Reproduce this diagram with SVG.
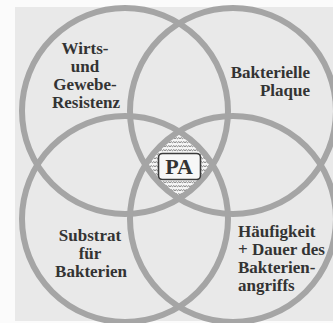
<svg xmlns="http://www.w3.org/2000/svg" width="333" height="323" viewBox="0 0 333 323">
  <style>
    .ring { fill: none; stroke: #a5a5a5; stroke-width: 6; }
    .lbl { font-family: "Liberation Serif", "Times New Roman", serif; font-weight: bold; font-size: 17px; fill: #333333; }
    .mid { text-anchor: middle; }
    .end { text-anchor: end; }
  </style>
  <defs>
    <pattern id="wave" x="0" y="0" width="5" height="4" patternUnits="userSpaceOnUse">
      <rect width="5" height="4" fill="#f6f6f6"/>
      <path d="M0,2.7 Q1.25,0.6 2.5,2.7 Q3.75,0.6 5,2.7" fill="none" stroke="#6a6a6a" stroke-width="0.9"/>
    </pattern>
  </defs>

  <rect x="0" y="0" width="333" height="323" fill="#fbfbfb"/>
  <rect x="15" y="7" width="318" height="314" fill="#e9e9e9"/>

  <g id="pa-zone">
    <path d="M179,131 A103,103 0 0 1 213,165 A103,103 0 0 1 179,199 A103,103 0 0 1 145,165 A103,103 0 0 1 179,131 Z" fill="url(#wave)"/>
  </g>

  <g id="wirts">
    <circle class="ring" cx="125" cy="111" r="103"/>
    <text class="lbl mid" x="85" y="54">Wirts-</text>
    <text class="lbl mid" x="85" y="72">und</text>
    <text class="lbl mid" x="85" y="90">Gewebe-</text>
    <text class="lbl mid" x="86" y="108">Resistenz</text>
  </g>

  <g id="plaque">
    <circle class="ring" cx="233" cy="111" r="103"/>
    <text class="lbl end" x="310" y="78">Bakterielle</text>
    <text class="lbl end" x="310" y="96">Plaque</text>
  </g>

  <g id="substrat">
    <circle class="ring" cx="125" cy="219" r="103"/>
    <text class="lbl mid" x="90" y="241">Substrat</text>
    <text class="lbl mid" x="90" y="259">für</text>
    <text class="lbl mid" x="91" y="277">Bakterien</text>
  </g>

  <g id="haeufigkeit">
    <circle class="ring" cx="233" cy="219" r="103"/>
    <text class="lbl" x="238" y="237">Häufigkeit</text>
    <text class="lbl" x="238" y="255">+ Dauer des</text>
    <text class="lbl" x="238" y="273">Bakterien-</text>
    <text class="lbl" x="238" y="291">angriffs</text>
  </g>

  <g id="pa">
    <rect x="158.5" y="153.5" width="42" height="26" rx="4" fill="#f7f7f7" stroke="#3a3a3a" stroke-width="1.6"/>
    <text x="179" y="174" text-anchor="middle" font-family="Liberation Serif, Times New Roman, serif" font-weight="bold" font-size="22" fill="#333333">PA</text>
  </g>

  <g id="connectors"/>
</svg>
